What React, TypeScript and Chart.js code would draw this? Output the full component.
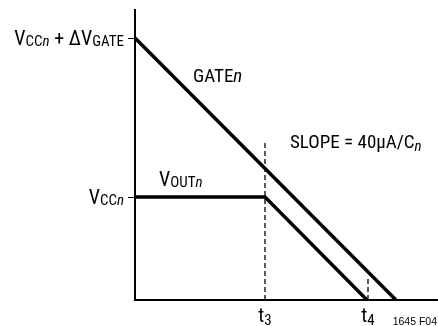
import React, { useEffect, useRef } from "react";
import { Chart, registerables } from "chart.js";

Chart.register(...registerables);

// ---- data (arbitrary time / voltage units) ----
const gateX = [0, 261];
const gateY = [262, 0];
const voutX = [0, 130, 232];
const voutY = [103, 103, 0];
const t3Line = [130, 130];
const t3LineY = [0, 157];
const t4Line = [233, 233];
const t4LineY = [0, 22];
const yTickValues = [262, 103]; // VCCn + dVGATE, VCCn
const xTickValues = [130, 233]; // t3, t4
const xRange = [0, 303];
const yRange = [0, 290];

const FAM = '"Liberation Sans Narrow", "Roboto Condensed", "Liberation Sans", sans-serif';

type Run = { t: string; s: number; i?: boolean; dy?: number; f?: string };

function fontOf(r: Run) {
  return `${r.i ? "italic " : ""}${r.s}px ${r.f || FAM}`;
}

function drawRuns(ctx: CanvasRenderingContext2D, runs: Run[], x: number, y: number, align: "left" | "right" | "center") {
  const widths = runs.map((r) => {
    ctx.font = fontOf(r);
    return ctx.measureText(r.t).width;
  });
  const total = widths.reduce((a, b) => a + b, 0);
  let cx = align === "left" ? x : align === "right" ? x - total : x - total / 2;
  ctx.textAlign = "left";
  ctx.textBaseline = "alphabetic";
  runs.forEach((r, k) => {
    ctx.font = fontOf(r);
    ctx.fillText(r.t, cx, y + (r.dy || 0));
    cx += widths[k];
  });
}

const BIG = 20;
const SUB = 15;

const yTickLabels: Run[][] = [
  [
    { t: "V", s: BIG },
    { t: "CC", s: SUB, dy: 1 },
    { t: "n", s: SUB, i: true, dy: 1 },
    { t: " + ΔV", s: BIG },
    { t: "GATE", s: SUB, dy: 1 },
  ],
  [
    { t: "V", s: BIG },
    { t: "CC", s: SUB, dy: 1 },
    { t: "n", s: SUB, i: true, dy: 1 },
  ],
];

const xTickLabels: Run[][] = [
  [
    { t: "t", s: BIG },
    { t: "3", s: SUB, dy: 3 },
  ],
  [
    { t: "t", s: BIG },
    { t: "4", s: SUB, dy: 3 },
  ],
];

const gateLabel: Run[] = [
  { t: "GATE", s: 19 },
  { t: "n", s: 19, i: true },
];
const voutLabel: Run[] = [
  { t: "V", s: BIG },
  { t: "OUT", s: SUB, dy: 1 },
  { t: "n", s: SUB, i: true, dy: 1 },
];
const slopeLabel: Run[] = [
  { t: "SLOPE = 40µA/C", s: 19 },
  { t: "n", s: SUB, i: true, dy: 3 },
];

const annotPlugin = {
  id: "annot",
  afterDraw(chart: any) {
    const ctx: CanvasRenderingContext2D = chart.ctx;
    const xs = chart.scales.x;
    const ys = chart.scales.y;
    const left = chart.chartArea.left;
    const bottom = chart.chartArea.bottom;
    ctx.save();
    ctx.fillStyle = "#000";
    ctx.strokeStyle = "#000";
    ctx.lineWidth = 1;
    // y tick marks and labels
    yTickValues.forEach((v, k) => {
      const py = ys.getPixelForValue(v);
      ctx.beginPath();
      ctx.moveTo(left - 7, Math.round(py) + 0.5);
      ctx.lineTo(left, Math.round(py) + 0.5);
      ctx.stroke();
      drawRuns(ctx, yTickLabels[k], left - 11, py + 7, "right");
    });
    // x tick labels
    xTickValues.forEach((v, k) => {
      const px = xs.getPixelForValue(v);
      drawRuns(ctx, xTickLabels[k], px, bottom + 22, "center");
    });
    // series labels
    drawRuns(ctx, gateLabel, xs.getPixelForValue(58), ys.getPixelForValue(218), "left");
    drawRuns(ctx, voutLabel, xs.getPixelForValue(24), ys.getPixelForValue(114), "left");
    drawRuns(ctx, slopeLabel, xs.getPixelForValue(155), ys.getPixelForValue(152), "left");
    // figure id
    ctx.font = '10.5px "Liberation Sans", sans-serif';
    ctx.textAlign = "right";
    ctx.fillText("1645 F04", chart.width - 1, chart.height - 1);
    ctx.restore();
  },
};

export default function App() {
  const ref = useRef<HTMLCanvasElement>(null);
  useEffect(() => {
    document.body.style.margin = "0";
    const pts = (xs: number[], ys: number[]) => xs.map((x, i) => ({ x, y: ys[i] }));
    const chart = new Chart(ref.current!, {
      type: "scatter",
      data: {
        datasets: [
          {
            data: pts(gateX, gateY),
            showLine: true,
            borderColor: "#000",
            borderWidth: 3.5,
            pointRadius: 0,
          },
          {
            data: pts(voutX, voutY),
            showLine: true,
            borderColor: "#000",
            borderWidth: 3.5,
            pointRadius: 0,
          },
          {
            data: pts(t3Line, t3LineY),
            showLine: true,
            borderColor: "#000",
            borderWidth: 1.3,
            borderDash: [5, 3],
            pointRadius: 0,
          },
          {
            data: pts(t4Line, t4LineY),
            showLine: true,
            borderColor: "#000",
            borderWidth: 1.3,
            borderDash: [5, 3],
            pointRadius: 0,
          },
        ],
      },
      options: {
        animation: false,
        responsive: false,
        events: [],
        layout: { padding: { left: 135, top: 10, bottom: 26, right: 0 } },
        plugins: { legend: { display: false }, tooltip: { enabled: false } },
        scales: {
          x: {
            type: "linear",
            min: xRange[0],
            max: xRange[1],
            grid: { display: false, drawTicks: false },
            ticks: { display: false },
            border: { display: true, color: "#000", width: 2 },
          },
          y: {
            type: "linear",
            min: yRange[0],
            max: yRange[1],
            grid: { display: false, drawTicks: false },
            ticks: { display: false },
            border: { display: true, color: "#000", width: 2 },
          },
        },
      },
      plugins: [annotPlugin],
    });
    return () => chart.destroy();
  }, []);
  return <canvas ref={ref} width={438} height={326} style={{ display: "block" }} />;
}
